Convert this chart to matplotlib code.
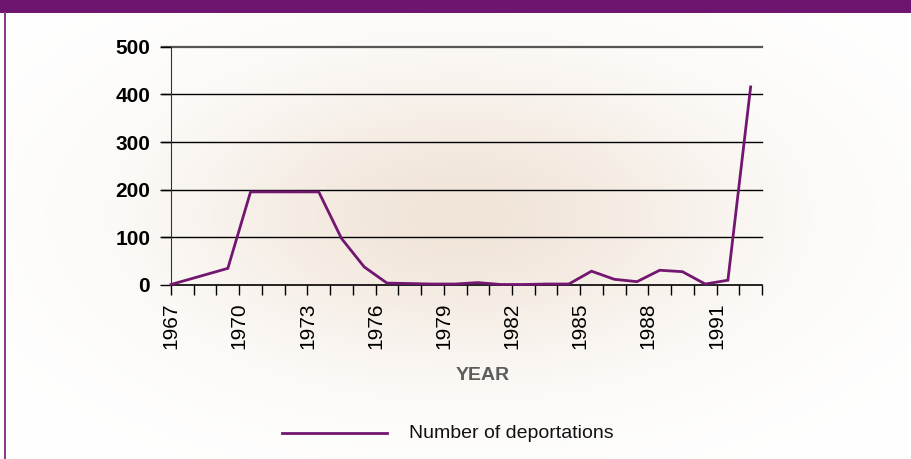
import numpy as np
import matplotlib
matplotlib.use("Agg")
import matplotlib.pyplot as plt
from matplotlib.lines import Line2D

plt.rcParams["font.family"] = ["Liberation Sans", "DejaVu Sans"]

# positions (mid-year) and values
year_pos = [1967.0, 1969.5, 1970.5, 1971.5, 1972.5, 1973.5, 1974.5, 1975.5,
            1976.5, 1977.5, 1978.5, 1979.5, 1980.5, 1981.5, 1982.5, 1983.5,
            1984.5, 1985.5, 1986.5, 1987.5, 1988.5, 1989.5, 1990.5, 1991.5,
            1992.5]
deportations = [0, 34, 195, 195, 195, 195, 97, 37,
                3, 2, 1, 1, 4, 0, 0, 1,
                1, 28, 11, 6, 30, 27, 1, 9,
                416]
tick_years = list(range(1967, 1994))
label_years = [1967, 1970, 1973, 1976, 1979, 1982, 1985, 1988, 1991]
y_ticks = [0, 100, 200, 300, 400, 500]

PURPLE = "#721670"

fig = plt.figure(figsize=(9.12, 4.59), dpi=100)

# radial beige background
bg = fig.add_axes([0, 0, 1, 1], zorder=-10)
W, H = 912, 459
xx, yy = np.meshgrid(np.arange(W), np.arange(H))
cx, cy = 460, 215
r = np.sqrt(((xx - cx) / 420.0) ** 2 + ((yy - cy) / 220.0) ** 2)
t = 1 - np.exp(-2.2 * r ** 2)
c0 = np.array([241, 229, 217]) / 255.0
c1 = np.array([255, 255, 255]) / 255.0
img = c0[None, None, :] * (1 - t[..., None]) + c1[None, None, :] * t[..., None]
bg.imshow(img, extent=[0, W, H, 0], aspect="auto")
bg.set_xlim(0, W)
bg.set_ylim(H, 0)
bg.axis("off")

# header bar and left border
bg.add_patch(plt.Rectangle((0, 0), W, 12.5, color="#6e1570", lw=0))
bg.add_patch(plt.Rectangle((4, 12), 2.2, H, color="#8a3a8a", lw=0))

ax = fig.add_axes([171 / W, 1 - 284.5 / H, 591 / W, 237.5 / H])
ax.patch.set_alpha(0)

ax.plot(year_pos, deportations, color=PURPLE, lw=2.0, zorder=3,
        solid_joinstyle="miter", clip_on=False)

ax.set_xlim(1967, 1993)
ax.set_ylim(0, 500)

for v in y_ticks[1:]:
    ax.plot([1966.6, 1993], [v, v], color="#555555" if v == 500 else "black",
            lw=1.6 if v == 500 else 1.0, clip_on=False, zorder=1)

ax.set_yticks(y_ticks)
ax.set_yticklabels([str(v) for v in y_ticks], fontsize=15, fontweight="bold")
ax.set_xticks(tick_years)
ax.set_xticklabels([str(y) if y in label_years else "" for y in tick_years],
                   rotation=90, fontsize=15)
ax.tick_params(axis="y", length=8, width=1, pad=7, color="black")
ax.tick_params(axis="x", length=7, width=1, pad=6, color="black")

for s in ["top", "right"]:
    ax.spines[s].set_visible(False)
ax.spines["left"].set_color("#333333")
ax.spines["bottom"].set_color("black")
ax.spines["bottom"].set_linewidth(1.2)

fig.text(483 / W, 1 - 376 / H, "YEAR", ha="center", va="center",
         fontsize=14, fontweight="bold", color="#5c5c5c")

# legend
bg.add_line(Line2D([282, 387], [433, 433], color=PURPLE, lw=2.0))
bg.text(409, 433, "Number of deportations", va="center", ha="left",
        fontsize=14, color="#111111")

fig.savefig("out.png", dpi=100)
